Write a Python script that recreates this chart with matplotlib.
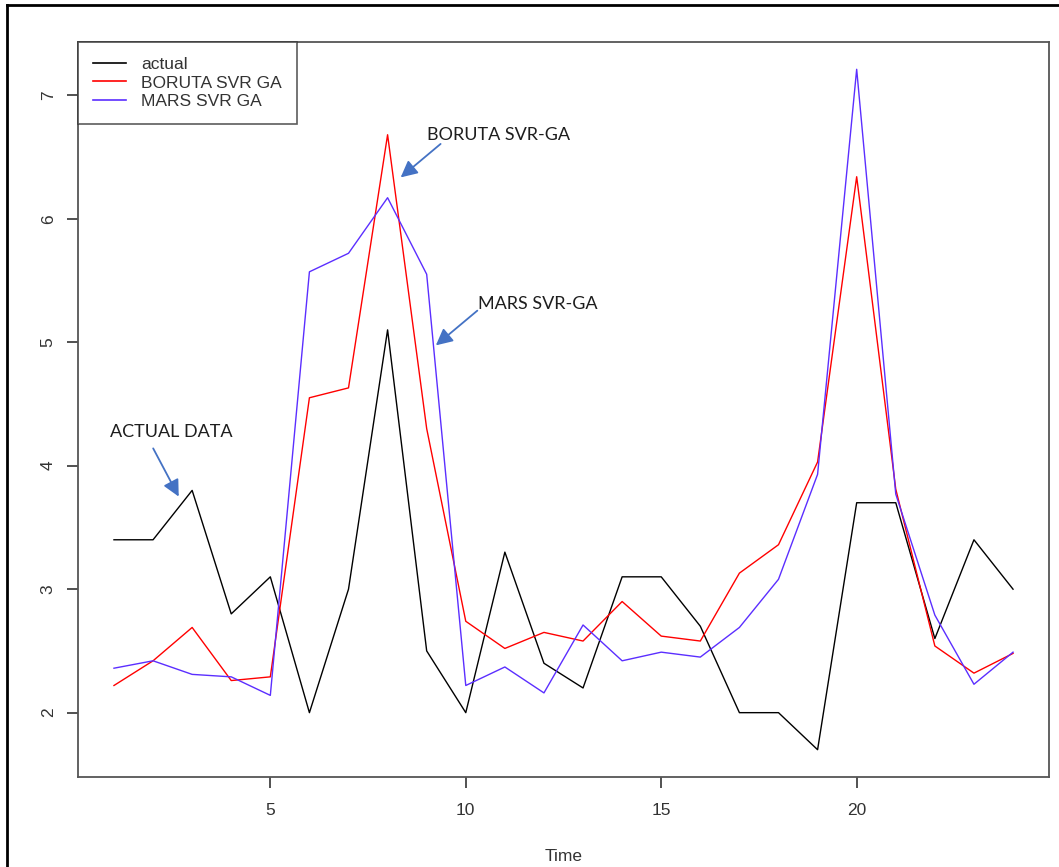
import matplotlib
matplotlib.use('Agg')
from matplotlib import pyplot as plt
from matplotlib.lines import Line2D

time = list(range(1, 25))
actual = [3.4, 3.4, 3.8, 2.8, 3.1, 2.0, 3.0, 5.1, 2.5, 2.0, 3.3, 2.4,
          2.2, 3.1, 3.1, 2.7, 2.0, 2.0, 1.7, 3.7, 3.7, 2.6, 3.4, 3.0]
boruta = [2.22, 2.42, 2.69, 2.26, 2.29, 4.55, 4.63, 6.68, 4.3, 2.74, 2.52, 2.65,
          2.58, 2.9, 2.62, 2.58, 3.13, 3.36, 4.03, 6.34, 3.81, 2.54, 2.32, 2.48]
mars = [2.36, 2.42, 2.31, 2.29, 2.14, 5.57, 5.72, 6.17, 5.55, 2.22, 2.37, 2.16,
        2.71, 2.42, 2.49, 2.45, 2.69, 3.08, 3.93, 7.21, 3.77, 2.79, 2.23, 2.49]
labels = ['actual', 'BORUTA SVR GA', 'MARS SVR GA']
colors = ['black', '#ff0000', '#5b2eff']

plt.rcParams['font.family'] = ['Liberation Sans', 'DejaVu Sans']

fig = plt.figure(figsize=(10.59, 8.67), dpi=100)
ax = fig.add_axes([78 / 1059, 1 - 777 / 867, (1049 - 78) / 1059, (777 - 42) / 867])

for ys, c in zip([actual, boruta, mars], colors):
    ax.plot(time, ys, color=c, lw=1.0)

# R style 4% padding
ax.set_xlim(0.08, 24.92)
ax.set_ylim(1.479, 7.431)
ax.set_xticks([5, 10, 15, 20])
ax.set_yticks([2, 3, 4, 5, 6, 7])
for s in ax.spines.values():
    s.set_color('#555555')
    s.set_linewidth(1.3)
ax.tick_params(direction='out', length=8, width=1.2, color='#333333',
               labelsize=12.5, labelcolor='#333333')
ax.tick_params(axis='x', pad=11)
ax.tick_params(axis='y', pad=8)
for t in ax.get_yticklabels():
    t.set_rotation(90)
    t.set_va('center')
ax.set_xlabel('Time', fontsize=12.5, color='#333333', labelpad=22)

handles = [Line2D([], [], color=c, lw=1.2) for c in colors]
leg = ax.legend(handles, labels, loc='upper left', bbox_to_anchor=(0.0, 1.0),
                fontsize=12.5, frameon=True, fancybox=False, borderaxespad=0,
                handlelength=1.9, handletextpad=0.9, labelspacing=0.2,
                borderpad=0.85)
leg.get_frame().set_edgecolor('#333333')
leg.get_frame().set_linewidth(1.2)
for t in leg.get_texts():
    t.set_color('#333333')

# annotations
ann_font = dict(fontsize=13, color='#1e1e1e', family=['Lato', 'DejaVu Sans'],
                va='center', ha='left')
ax.text(9.0, 6.68, 'BORUTA SVR-GA', **ann_font)
ax.text(10.3, 5.31, 'MARS SVR-GA', **ann_font)
ax.text(0.9, 4.27, 'ACTUAL DATA', **ann_font)
arrow = dict(arrowstyle='-|>,head_length=1.0,head_width=0.5', color='#4472c4', lw=1.3)
ax.annotate('', xy=(8.28, 6.32), xytext=(9.41, 6.62), arrowprops=arrow)
ax.annotate('', xy=(9.18, 4.96), xytext=(10.35, 5.27), arrowprops=arrow)
ax.annotate('', xy=(2.69, 3.73), xytext=(1.97, 4.16), arrowprops=arrow)

# outer frame of the screenshot
fig.add_artist(Line2D([7 / 1059, 7 / 1059], [0, 1 - 5 / 867], color='black', lw=2))
fig.add_artist(Line2D([7 / 1059, 1], [1 - 5 / 867, 1 - 5 / 867], color='black', lw=2))

fig.savefig('out.png', dpi=100)
